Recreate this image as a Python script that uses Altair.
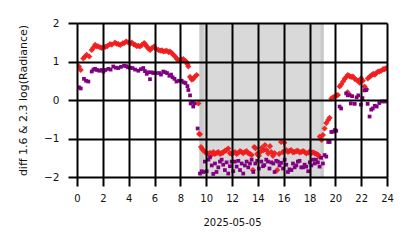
import altair as alt
import pandas as pd

# ---- data ----
red_t = [0.15, 0.29, 0.49, 0.62, 0.75, 0.95, 1.14, 1.27, 1.4, 1.52, 1.65, 1.78, 1.9, 2.05, 2.2, 2.35,
         2.55, 2.7, 2.94, 3.07, 3.2, 3.35, 3.54, 3.67, 3.8, 3.95, 4.1, 4.24, 4.37, 4.5, 4.63, 4.75,
         4.88, 5.03, 5.2, 5.3, 5.4, 5.53, 5.66, 5.8, 5.97, 6.1, 6.3, 6.45, 6.57, 6.69, 6.82, 6.95,
         7.1, 7.2, 7.33, 7.46, 7.6, 7.72, 7.85, 7.98, 8.1, 8.23, 8.35, 8.45, 8.55, 8.62, 8.75, 8.88,
         9.0, 9.14, 9.27, 9.4, 9.46, 9.52, 9.6, 9.7, 9.78, 9.9, 10.04, 10.17, 10.3, 10.43, 10.55, 10.65,
         10.74, 10.85, 10.94, 11.07, 11.2, 11.32, 11.45, 11.58, 11.71, 11.84, 11.97, 12.1, 12.23, 12.36,
         12.49, 12.62, 12.75, 12.87, 13.0, 13.13, 13.26, 13.39, 13.52, 13.62, 13.72, 13.82, 13.95, 14.08,
         14.2, 14.3, 14.45, 14.55, 14.68, 14.8, 14.94, 15.04, 15.17, 15.3, 15.5, 15.65, 15.8, 15.93,
         16.05, 16.2, 16.33, 16.45, 16.58, 16.72, 16.85, 16.98, 17.1, 17.23, 17.36, 17.5, 17.62, 17.75,
         17.9, 18.02, 18.14, 18.27, 18.4, 18.52, 18.65, 18.76, 18.8, 18.94, 19.04, 19.17, 19.3, 19.45,
         19.56, 19.69, 19.82, 19.95, 20.1, 20.2, 20.33, 20.45, 20.6, 20.72, 20.85, 20.95, 20.97, 21.1,
         21.23, 21.36, 21.5, 21.65, 21.78, 21.88, 22.0, 22.13, 22.26, 22.4, 22.52, 22.68, 22.8, 22.94,
         23.06, 23.17, 23.3, 23.43, 23.56, 23.7, 23.82, 23.94]
red_v = [0.87, 0.78, 1.08, 1.13, 1.17, 1.13, 1.30, 1.36, 1.43, 1.40, 1.39, 1.37, 1.35, 1.37, 1.38, 1.40,
         1.45, 1.44, 1.49, 1.46, 1.45, 1.43, 1.47, 1.48, 1.52, 1.50, 1.47, 1.49, 1.45, 1.43, 1.40, 1.41,
         1.39, 1.43, 1.48, 1.44, 1.39, 1.34, 1.30, 1.35, 1.39, 1.33, 1.30, 1.28, 1.29, 1.26, 1.27, 1.28,
         1.24, 1.26, 1.22, 1.17, 1.13, 1.07, 1.04, 1.03, 1.05, 1.06, 1.02, 1.00, 0.93, 0.87, 0.60, 0.53,
         0.55, 0.61, 0.65, -0.09, -0.88, -0.89, -1.22, -1.28, -1.30, -1.35, -1.38, -1.40, -1.37, -1.42, -1.35, -1.40,
         -1.39, -1.37, -1.35, -1.40, -1.38, -1.36, -1.32, -1.30, -1.26, -1.38, -1.40, -1.37, -1.35, -1.40,
         -1.37, -1.33, -1.35, -1.38, -1.35, -1.33, -1.38, -1.40, -1.43, -1.82, -1.22, -1.25, -1.40, -1.45,
         -1.35, -1.24, -1.30, -1.17, -1.30, -1.39, -1.20, -1.35, -1.45, -1.38, -1.82, -1.40, -1.09, -1.35,
         -1.11, -1.30, -1.35, -1.32, -1.30, -1.36, -1.35, -1.33, -1.32, -1.36, -1.35, -1.33, -1.35, -1.39,
         -1.37, -1.34, -1.38, -1.36, -1.38, -1.40, -1.42, -1.47, -0.95, -1.04, -0.91, -0.74, -0.60, -0.52,
         -0.46, 0.04, 0.07, 0.09, 0.12, 0.13, 0.35, 0.40, 0.48, 0.55, 0.60, 0.20, 0.65, 0.62,
         0.60, 0.61, 0.55, 0.52, 0.50, 0.45, 0.56, 0.50, 0.35, 0.28, 0.56, 0.61, 0.64, 0.68,
         0.66, 0.70, 0.74, 0.74, 0.76, 0.80, 0.80, 0.83]

purple_t = [0.15, 0.29, 0.54, 0.7, 0.88, 1.14, 1.27, 1.4, 1.55, 1.73, 1.9, 2.04, 2.2, 2.43, 2.6, 2.81,
            3.0, 3.2, 3.4, 3.64, 3.8, 3.95, 4.1, 4.3, 4.5, 4.75, 4.95, 5.13, 5.26, 5.4, 5.52, 5.65,
            5.78, 5.9, 6.1, 6.37, 6.5, 6.68, 6.82, 6.97, 7.15, 7.28, 7.4, 7.55, 7.7, 7.9, 8.1, 8.25,
            8.4, 8.55, 8.62, 8.75, 8.8, 8.95, 9.0, 9.1, 9.34, 9.52, 9.65, 9.78, 9.9, 10.04, 10.17, 10.3,
            10.43, 10.55, 10.68, 10.8, 10.94, 11.07, 11.2, 11.32, 11.45, 11.58, 11.71, 11.84, 11.97, 12.1,
            12.23, 12.36, 12.49, 12.62, 12.75, 12.87, 13.0, 13.13, 13.26, 13.39, 13.52, 13.65, 13.8, 13.95,
            14.08, 14.27, 14.4, 14.5, 14.65, 14.78, 14.9, 15.04, 15.2, 15.3, 15.42, 15.55, 15.68, 15.8,
            15.95, 16.08, 16.2, 16.33, 16.45, 16.6, 16.72, 16.85, 16.98, 17.1, 17.23, 17.36, 17.5, 17.62,
            17.75, 17.9, 18.02, 18.14, 18.27, 18.4, 18.5, 18.65, 18.78, 18.9, 19.04, 19.17, 19.3, 19.45,
            19.56, 19.69, 19.82, 19.97, 20.07, 20.33, 20.45, 20.84, 20.97, 21.1, 21.2, 21.3, 21.5, 21.65,
            21.78, 21.98, 22.1, 22.26, 22.4, 22.5, 22.65, 22.78, 22.9, 23.05, 23.2, 23.4, 23.6, 23.85]
purple_v = [0.33, 0.30, 0.55, 0.50, 0.48, 0.74, 0.79, 0.81, 0.78, 0.76, 0.78, 0.74, 0.78, 0.81, 0.79, 0.87,
            0.84, 0.83, 0.86, 0.89, 0.88, 0.85, 0.84, 0.83, 0.79, 0.76, 0.80, 0.83, 0.75, 0.68, 0.72, 0.54,
            0.72, 0.70, 0.70, 0.70, 0.66, 0.74, 0.72, 0.70, 0.63, 0.66, 0.59, 0.55, 0.48, 0.50, 0.50, 0.46,
            0.44, 0.36, 0.26, 0.12, -0.09, -0.05, -0.17, -0.09, -0.74, -1.91, -1.85, -1.87, -1.60, -1.85, -1.55, -1.49,
            -1.70, -1.92, -1.65, -1.87, -1.75, -1.60, -1.55, -1.68, -1.82, -1.62, -1.91, -1.72, -1.60, -1.85,
            -1.60, -1.73, -1.58, -1.82, -1.65, -1.91, -1.70, -1.60, -1.75, -1.65, -1.55, -1.87, -1.65, -1.58,
            -1.78, -1.60, -1.72, -1.69, -1.55, -1.60, -1.78, -1.62, -1.65, -1.87, -1.58, -1.60, -1.70, -1.63,
            -1.78, -1.55, -1.68, -1.87, -1.80, -1.82, -1.65, -1.75, -1.70, -1.60, -1.58, -1.75, -1.75, -1.68,
            -1.73, -1.85, -1.62, -1.70, -1.55, -1.65, -1.55, -1.62, -1.73, -1.50, -1.65, -1.43, -1.47, -1.09,
            -1.09, -0.83, -0.82, -0.78, -0.80, -0.17, -0.22, 0.17, 0.12, 0.13, -0.09, 0.10, -0.10, 0.07,
            0.12, -0.12, 0.05, 0.25, 0.26, -0.10, -0.43, -0.25, -0.22, -0.15, -0.17, -0.08, -0.04, -0.04]

band_start = [9.48]
band_end = [19.1]
edge_start = [9.48, 18.85]
edge_end = [9.8, 19.1]

x_ticks = list(range(0, 25, 2))
y_ticks = [-2, -1, 0, 1, 2]
x_title = "2025-05-05"
y_title = "diff 1.6 & 2.3  log(Radiance)"

red_df = pd.DataFrame({"t": red_t, "v": red_v})
purple_df = pd.DataFrame({"t": purple_t, "v": purple_v})
band_df = pd.DataFrame({"s": band_start, "e": band_end})
edge_df = pd.DataFrame({"s": edge_start, "e": edge_end})

FONT = "DejaVu Sans"
xscale = alt.Scale(domain=[0, 24], nice=False, zero=False)
yscale = alt.Scale(domain=[-2, 2], nice=False, zero=False)

xaxis = alt.Axis(values=x_ticks, format="d", grid=True, gridColor="black", gridWidth=2, gridOpacity=1,
                 domain=False, tickColor="black", tickWidth=2, tickSize=9, labelPadding=7,
                 labelFont=FONT, labelFontSize=10, labelColor="#111", labelOverlap=False,
                 title=x_title, titleFont=FONT, titleFontSize=10, titleFontWeight="normal",
                 titleColor="#111", titlePadding=14, zindex=1, labelFlush=False)
yaxis = alt.Axis(values=y_ticks, format="d", grid=True, gridColor="black", gridWidth=2, gridOpacity=1,
                 domain=False, tickColor="black", tickWidth=2, tickSize=9, labelPadding=9,
                 labelFont=FONT, labelFontSize=10.5, labelColor="#111", labelOverlap=False,
                 title=y_title, titleFont=FONT, titleFontSize=11, titleFontWeight="normal",
                 titleColor="#111", titlePadding=15, zindex=1, labelFlush=False)

X = lambda f: alt.X(f, scale=xscale, axis=xaxis)

band = alt.Chart(band_df).mark_rect(color="#d9d9d9").encode(
    x=X("s:Q"),
    x2="e:Q",
    y=alt.datum(-2, scale=yscale, axis=yaxis),
    y2=alt.datum(2),
)
edges = alt.Chart(edge_df).mark_rect(color="#c9c9c9").encode(
    x=X("s:Q"),
    x2="e:Q",
    y=alt.datum(-2, scale=yscale, axis=yaxis),
    y2=alt.datum(2),
)
red = alt.Chart(red_df).mark_point(shape="diamond", filled=True, color="#f21c1c", opacity=0.95,
                                   size=38, clip=True).encode(
    x=X("t:Q"), y=alt.Y("v:Q", scale=yscale, axis=yaxis))
purple = alt.Chart(purple_df).mark_point(shape="square", filled=True, color="#800080", opacity=1,
                                         size=14, clip=True).encode(
    x=X("t:Q"), y=alt.Y("v:Q", scale=yscale, axis=yaxis))

chart = alt.layer(band, edges, red, purple).properties(
    width=310, height=154,
    autosize=alt.AutoSizeParams(type="none"),
    padding={"left": 77, "top": 23, "right": 27, "bottom": 71},
    background="white",
).configure_view(stroke=None)

chart.save("out.html", embed_options={"renderer": "svg", "actions": False})
